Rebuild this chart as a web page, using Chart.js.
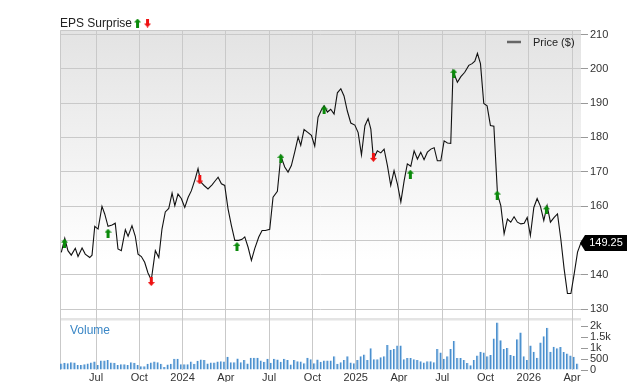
<!DOCTYPE html>
<html>
<head>
<meta charset="utf-8">
<script src="https://cdn.jsdelivr.net/npm/chart.js@4.4.1/dist/chart.umd.min.js"></script>
<style>
  html, body { margin: 0; padding: 0; background: #fff; }
  #wrap { position: relative; width: 640px; height: 382px; }
</style>
</head>
<body>
<div id="wrap"><canvas id="chart" width="640" height="382"></canvas></div>
<script>
// x values are months counted from Jan 2023 (6 = Jul 2023, 12 = Jan 2024 ...)
const priceMonths = [
  3.59, 3.83, 4.05, 4.28, 4.56, 4.75, 5.03, 5.25, 5.56, 5.72, 5.91, 6.14, 6.41, 6.60, 6.83, 7.11, 7.33, 7.52, 7.75, 8.03,
  8.22, 8.49, 8.72, 8.91, 9.14, 9.37, 9.60, 9.83, 10.11, 10.35, 10.57, 10.80, 11.04, 11.27, 11.46, 11.68, 11.91, 12.15, 12.38, 12.61,
  12.88, 13.07, 13.26, 13.49, 13.76, 14.04, 14.25, 14.46, 14.69, 14.92, 15.15, 15.38, 15.62, 15.89, 16.12, 16.31, 16.54, 16.77, 17.00, 17.28,
  17.51, 17.74, 18.04, 18.27, 18.57, 18.81, 19.08, 19.31, 19.54, 19.78, 20.01, 20.19, 20.42, 20.70, 20.93, 21.16, 21.39, 21.62, 21.81, 22.04,
  22.27, 22.50, 22.73, 22.97, 23.19, 23.42, 23.66, 23.94, 24.17, 24.40, 24.64, 24.86, 25.05, 25.23, 25.50, 25.74, 25.97, 26.20, 26.43, 26.66,
  26.89, 27.13, 27.36, 27.58, 27.82, 28.05, 28.28, 28.51, 28.74, 28.97, 29.21, 29.44, 29.66, 29.90, 30.13, 30.36, 30.59, 30.75, 31.05, 31.29,
  31.56, 31.84, 32.07, 32.26, 32.44, 32.65, 32.88, 33.11, 33.34, 33.58, 33.83, 34.06, 34.29, 34.52, 34.75, 34.98, 35.21, 35.45, 35.68, 35.89,
  36.11, 36.35, 36.58, 36.81, 37.04, 37.27, 37.50, 37.76, 37.99, 38.22, 38.45, 38.68, 38.92, 39.15, 39.38, 39.61
];
const prices = [
  146.5, 150.6, 147.0, 145.7, 147.7, 145.3, 147.8, 146.0, 145.0, 145.7, 154.1, 153.3, 159.9, 157.7, 154.1, 154.5, 155.0, 147.5, 147.0, 153.1,
  151.2, 154.3, 151.2, 146.0, 145.3, 143.6, 140.5, 138.5, 147.0, 145.0, 153.3, 158.3, 159.3, 163.8, 160.1, 163.5, 162.2, 159.6, 162.5, 164.5,
  168.0, 170.9, 167.0, 166.0, 165.0, 166.2, 167.3, 168.4, 166.5, 166.0, 159.2, 154.4, 150.0, 150.0, 150.3, 151.0, 148.0, 144.2, 147.6, 151.0,
  152.9, 152.9, 153.2, 162.6, 164.3, 174.6, 171.4, 169.9, 171.8, 175.9, 180.1, 177.7, 182.3, 181.4, 180.6, 177.5, 185.9, 188.0, 189.2, 187.4,
  188.2, 186.8, 193.0, 194.2, 192.1, 187.7, 184.2, 183.6, 181.4, 174.9, 183.4, 185.5, 182.4, 173.7, 176.1, 175.5, 176.6, 171.8, 166.0, 170.3,
  166.5, 161.2, 167.4, 172.3, 171.6, 176.1, 173.7, 175.7, 173.5, 175.7, 176.6, 177.0, 173.2, 173.2, 179.0, 178.4, 178.3, 199.3, 196.1, 197.7,
  199.0, 201.0, 201.5, 202.2, 204.5, 201.5, 189.9, 189.2, 183.5, 183.3, 163.5, 160.1, 151.9, 156.2, 155.3, 156.9, 155.3, 154.8, 155.0, 156.7,
  151.4, 159.6, 162.2, 159.9, 155.8, 160.1, 155.3, 156.7, 157.7, 150.4, 141.7, 134.5, 134.5, 140.3, 146.6, 149.25
];
// weekly volume (thousands of shares)
const volumes = [
  290, 325, 310, 355, 340, 230, 230, 260, 290, 340, 385, 230, 430, 430, 450, 340, 325, 230, 260, 260,
  230, 355, 325, 230, 170, 170, 280, 340, 385, 355, 280, 140, 245, 280, 510, 510, 260, 260, 260, 385,
  280, 415, 480, 450, 290, 340, 340, 385, 400, 385, 600, 355, 355, 525, 355, 450, 290, 555, 555, 555,
  430, 370, 510, 325, 510, 480, 370, 510, 450, 245, 460, 400, 385, 310, 555, 490, 310, 480,
  370, 430, 430, 430, 630, 280, 350, 460, 630, 340, 310, 450, 630, 710, 450, 985, 490, 490, 585, 630,
  1140, 925, 955, 1110, 1110, 490, 540, 540, 490, 450, 400, 340, 400, 400, 350, 955, 800, 510, 630, 955,
  1320, 540, 540, 450, 320, 215, 460, 660, 830, 800, 630, 680, 1430, 2160, 1355, 955, 1000, 680, 650, 1400,
  1710, 630, 460, 1110, 830, 555, 1250, 1540, 1925, 830, 1060, 985, 1045, 815, 755, 660, 600, 290
];
const volStartMonth = 3.59;
const weekMonths = 12 / 52;

// earnings surprise markers
const epsMonths = [3.81, 6.83, 9.83, 13.19, 15.77, 18.81, 21.81, 25.23, 27.79, 30.80, 33.81, 37.22];
const epsPrices = [149.2, 152.1, 138.0, 167.6, 148.2, 173.9, 188.0, 174.2, 169.3, 198.7, 163.2, 158.9];
const epsBeat = [true, true, false, false, true, true, true, false, true, true, true, true];

const priceTicks = [130, 140, 150, 160, 170, 180, 190, 200, 210];
const volTicks = [0, 500, 1000, 1500, 2000];
const volTickLabels = ['0', '500', '1k', '1.5k', '2k'];
const monthTicks = [6, 9, 12, 15, 18, 21, 24, 27, 30, 33, 36, 39];
const lastPrice = '149.25';

const FONT = '"Liberation Sans", Arial, sans-serif';
Chart.defaults.font.family = FONT;
Chart.defaults.font.size = 11;
Chart.defaults.color = '#333';

function monthLabel(v) {
  const m = ((v % 12) + 12) % 12;
  if (m === 0) return String(2023 + v / 12);
  return { 3: 'Apr', 6: 'Jul', 9: 'Oct' }[m] || '';
}

// little arrow pictures used as point styles
function arrowImg(color, up) {
  const c = document.createElement('canvas');
  c.width = 7; c.height = 9;
  const g = c.getContext('2d');
  g.fillStyle = color;
  g.beginPath();
  if (up) {
    g.moveTo(3.5, 0); g.lineTo(7, 4); g.lineTo(5, 4); g.lineTo(5, 9); g.lineTo(2, 9); g.lineTo(2, 4); g.lineTo(0, 4);
  } else {
    g.moveTo(3.5, 9); g.lineTo(7, 5); g.lineTo(5, 5); g.lineTo(5, 0); g.lineTo(2, 0); g.lineTo(2, 5); g.lineTo(0, 5);
  }
  g.closePath();
  g.fill();
  return c;
}
const upArrow = arrowImg('#0a8a0a', true);
const downArrow = arrowImg('#ee1111', false);

const panels = {
  id: 'panels',
  beforeDraw(chart) {
    const { ctx, chartArea: a, scales } = chart;
    const py = scales.y, vy = scales.yVol;
    ctx.save();
    const g = ctx.createLinearGradient(0, py.top, 0, py.bottom);
    g.addColorStop(0, '#e3e3e3');
    g.addColorStop(0.8, '#ffffff');
    ctx.fillStyle = g;
    ctx.fillRect(a.left, py.top, a.right - a.left, py.bottom - py.top);
    ctx.fillStyle = '#e4e4e4';
    ctx.fillRect(a.left, vy.top, a.right - a.left, 2.5);
    ctx.restore();
  },
  beforeDatasetsDraw(chart) {
    const { ctx, chartArea: a } = chart;
    ctx.save();
    ctx.strokeStyle = '#c9c9c9';
    ctx.lineWidth = 1;
    ctx.beginPath();
    ctx.moveTo(a.left + 0.5, a.bottom);
    ctx.lineTo(a.left + 0.5, a.top + 0.5);
    ctx.lineTo(a.right, a.top + 0.5);
    ctx.stroke();
    ctx.restore();
  },
  afterDraw(chart) {
    const { ctx, chartArea: a, scales } = chart;
    ctx.save();
    // header
    ctx.font = '12px ' + FONT;
    ctx.fillStyle = '#222';
    ctx.textBaseline = 'alphabetic';
    ctx.textAlign = 'left';
    ctx.fillText('EPS Surprise', a.left, 27);
    const tw = ctx.measureText('EPS Surprise').width;
    ctx.drawImage(upArrow, a.left + tw + 2, 18.5);
    ctx.drawImage(downArrow, a.left + tw + 12, 18.5);
    // legend
    ctx.strokeStyle = '#666';
    ctx.lineWidth = 2.5;
    ctx.beginPath();
    ctx.moveTo(507, 42); ctx.lineTo(521, 42);
    ctx.stroke();
    ctx.font = '11px ' + FONT;
    ctx.fillStyle = '#222';
    ctx.fillText('Price ($)', 533, 46);
    // volume title
    ctx.font = '12px ' + FONT;
    ctx.fillStyle = '#3b87c6';
    ctx.fillText('Volume', a.left + 10, 334);
    // last price tag
    const yy = scales.y.getPixelForValue(prices[prices.length - 1]);
    const x0 = a.right - 1;
    ctx.fillStyle = '#000';
    ctx.beginPath();
    ctx.moveTo(x0, yy);
    ctx.lineTo(x0 + 5, yy - 8);
    ctx.lineTo(x0 + 47, yy - 8);
    ctx.lineTo(x0 + 47, yy + 8);
    ctx.lineTo(x0 + 5, yy + 8);
    ctx.closePath();
    ctx.fill();
    ctx.fillStyle = '#fff';
    ctx.font = '11px ' + FONT;
    ctx.textAlign = 'center';
    ctx.textBaseline = 'middle';
    ctx.fillText(lastPrice, x0 + 26, yy + 0.5);
    ctx.restore();
  }
};

new Chart(document.getElementById('chart'), {
  data: {
    datasets: [
      {
        type: 'scatter',
        yAxisID: 'y',
        data: epsMonths.map((m, i) => ({ x: m, y: epsPrices[i] })),
        pointStyle: ctx => (epsBeat[ctx.dataIndex] ? upArrow : downArrow),
        pointRadius: 4
      },
      {
        type: 'line',
        yAxisID: 'y',
        data: priceMonths.map((m, i) => ({ x: m, y: prices[i] })),
        borderColor: '#111',
        borderWidth: 1.1,
        pointRadius: 0,
        tension: 0
      },
      {
        type: 'bar',
        yAxisID: 'yVol',
        data: volumes.map((v, i) => ({ x: volStartMonth + i * weekMonths, y: v })),
        backgroundColor: '#4a8fce',
        borderColor: '#a9cdec',
        borderWidth: { left: 0, right: 1, top: 0, bottom: 0 },
        borderSkipped: false,
        barPercentage: 1,
        categoryPercentage: 0.8
      }
    ]
  },
  options: {
    responsive: false,
    animation: false,
    devicePixelRatio: 1,
    layout: { padding: { left: 60, top: 30, right: 0, bottom: 0 } },
    plugins: { legend: { display: false }, tooltip: { enabled: false } },
    scales: {
      x: {
        type: 'linear',
        offset: false,
        min: 3.5,
        max: 39.62,
        afterBuildTicks: s => { s.ticks = monthTicks.map(v => ({ value: v })); },
        ticks: { callback: v => monthLabel(v), padding: 1, maxRotation: 0, autoSkip: false, color: '#333' },
        grid: { color: '#c9c9c9', drawTicks: false, offset: false },
        border: { display: false },
        afterFit: s => { s.height = 12; }
      },
      y: {
        type: 'linear',
        position: 'right',
        stack: 'main',
        stackWeight: 288,
        min: 127.38,
        max: 211.31,
        afterBuildTicks: s => { s.ticks = priceTicks.map(v => ({ value: v })); },
        ticks: { padding: 2, color: '#333', autoSkip: false },
        grid: { color: '#c9c9c9', tickLength: 7, tickColor: '#999' },
        border: { display: false },
        afterFit: s => { s.width = 59; }
      },
      yVol: {
        type: 'linear',
        position: 'right',
        stack: 'main',
        stackWeight: 52,
        min: 0,
        max: 2364,
        afterBuildTicks: s => { s.ticks = volTicks.map(v => ({ value: v })); },
        ticks: { padding: 2, color: '#333', autoSkip: false, callback: v => volTickLabels[volTicks.indexOf(v)] },
        grid: { drawOnChartArea: false, tickLength: 7, tickColor: '#999' },
        border: { display: false },
        afterFit: s => { s.width = 59; }
      }
    }
  },
  plugins: [panels]
});
</script>
</body>
</html>
